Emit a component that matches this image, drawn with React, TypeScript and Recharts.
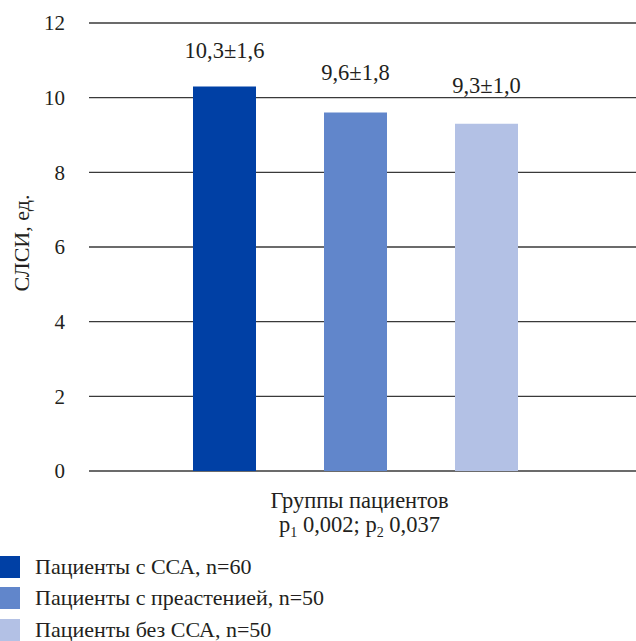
import React from 'react';
import { BarChart, Bar, XAxis, YAxis, CartesianGrid, LabelList, Legend } from 'recharts';

// values
const categories = ['Группы пациентов'];
const seriesNames = ['Пациенты с ССА, n=60', 'Пациенты с преастенией, n=50', 'Пациенты без ССА, n=50'];
const seriesMeans = [10.3, 9.6, 9.3];
const seriesSd = [1.6, 1.8, 1.0];
const yTicks = [0, 2, 4, 6, 8, 10, 12];
const pValues = ['0,002', '0,037'];

const colors = ['#0040a5', '#6186cb', '#b3c1e5'];
const labelOffsets = [28, 33, 31];
const FONT = "'Liberation Serif', 'DejaVu Serif', serif";
const TEXT = '#231f20';

const data = categories.map((name) => {
    const row: any = { name };
    seriesMeans.forEach((v, i) => (row['s' + i] = v));
    return row;
});

const fmt = (v: number) => v.toFixed(1).replace('.', ',');

function YTitle(props: any) {
    const vb = props.viewBox;
    const cy = vb.y + vb.height / 2 - 4;
    return (
        <text x={21} y={cy} transform={`rotate(-90, 21, ${cy})`} textAnchor="middle"
              dominantBaseline="central" style={{ fontFamily: FONT }} fontSize={22} fill={TEXT}>
            СЛСИ, ед.
        </text>
    );
}

function XTitle(props: any) {
    const vb = props.viewBox;
    const cx = vb.x + vb.width / 2 - 3;
    return (
        <g style={{ fontFamily: FONT }} fontSize={22.5} fill={TEXT} textAnchor="middle">
            <text x={cx} y={vb.y + 37}>{categories[0]}</text>
            <text x={cx} y={vb.y + 61}>
                p<tspan fontSize={14} dy={5}>1</tspan>
                <tspan dy={-5}> {pValues[0]}; p</tspan>
                <tspan fontSize={14} dy={5}>2</tspan>
                <tspan dy={-5}> {pValues[1]}</tspan>
            </text>
        </g>
    );
}

// legend drawn in series order (recharts sorts the payload by name otherwise)
function LegendBox(props: any) {
    const items = [...(props.payload || [])].sort(
        (a: any, b: any) => seriesNames.indexOf(a.value) - seriesNames.indexOf(b.value));
    return (
        <div style={{ fontFamily: FONT, fontSize: 22, color: TEXT }}>
            {items.map((it: any, i: number) => (
                <div key={i} style={{ display: 'flex', alignItems: 'center', height: 31.5 }}>
                    <div style={{ width: 20, height: 22, background: it.color, marginRight: 15 }} />
                    <span style={{ whiteSpace: 'nowrap', lineHeight: '24px' }}>{it.value}</span>
                </div>
            ))}
        </div>
    );
}

export default function App() {
    return (
        <div style={{ position: 'absolute', left: 0, top: 0, background: '#fff', fontFamily: FONT }}>
            <BarChart width={636} height={641} data={data}
                      margin={{ top: 23, right: 0, left: 0, bottom: 90 }}
                      barGap={68} barSize={63}>
                <CartesianGrid vertical={false} stroke="#3a3a3a" strokeWidth={1.4} />
                <XAxis dataKey="name" tick={false} axisLine={false} tickLine={false}
                       height={80} padding={{ left: 0, right: 14 }} label={<XTitle />} />
                <YAxis domain={[0, 12]} ticks={yTicks} width={89} axisLine={false}
                       tickLine={false} tickSize={0} tickMargin={24}
                       tick={{ fontSize: 21, fill: TEXT, style: { fontFamily: FONT } }}
                       label={<YTitle />} />
                <Legend layout="vertical" align="center" verticalAlign="middle"
                        wrapperStyle={{ left: 0, top: 551, width: 440 }}
                        content={<LegendBox />} />
                {seriesNames.map((s, i) => (
                    <Bar key={s} dataKey={'s' + i} name={s} fill={colors[i]} isAnimationActive={false}>
                        <LabelList dataKey={'s' + i} position="top" offset={labelOffsets[i]}
                                   formatter={(v: any) => fmt(v) + '±' + fmt(seriesSd[i])}
                                   style={{ fontFamily: FONT, fontSize: 22.5, fill: TEXT }} />
                    </Bar>
                ))}
            </BarChart>
        </div>
    );
}
